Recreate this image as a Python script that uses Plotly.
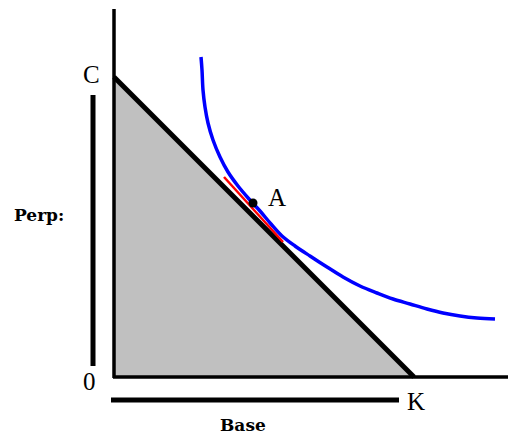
import plotly.graph_objects as go

# Data space: origin O at the corner of the axes, C on the vertical axis, K on the horizontal axis
triangle_x = [0, 0, 300]          # O, C, K
triangle_y = [0, 300, 0]
hyp_x = [0, 300]                  # C -> K
hyp_y = [300, 0]

curve_x = [87, 88, 89, 91, 94, 99, 106, 114, 124, 135, 146, 157, 168, 181, 196, 213,
           229, 246, 263, 279, 296, 313, 329, 346, 363, 381]
curve_y = [320, 307, 287, 270, 254, 237, 220, 205, 191, 178, 166, 153, 141, 131, 121, 110,
           100, 91, 84, 78, 73, 68, 64, 61, 59, 58]

tangent_x = [110, 169]
tangent_y = [200, 135]

point_a_x = [139]
point_a_y = [174]

vaxis_x = [0, 0]
vaxis_y = [-1, 368]
haxis_x = [-1, 394]
haxis_y = [0, 0]

perp_x = [-21, -21]
perp_y = [11, 282]
base_x = [-3, 285]
base_y = [-23, -23]

fig = go.Figure()

fig.add_trace(go.Scatter(x=triangle_x, y=triangle_y, fill="toself", fillcolor="#c0c0c0",
                         mode="lines", line=dict(width=0, color="#c0c0c0"), hoverinfo="skip"))
fig.add_trace(go.Scatter(x=vaxis_x, y=vaxis_y, mode="lines", line=dict(color="black", width=3.5)))
fig.add_trace(go.Scatter(x=haxis_x, y=haxis_y, mode="lines", line=dict(color="black", width=3.5)))
fig.add_trace(go.Scatter(x=hyp_x, y=hyp_y, mode="lines", line=dict(color="black", width=5)))
fig.add_trace(go.Scatter(x=curve_x, y=curve_y, mode="lines",
                         line=dict(color="#0000ff", width=3.5, shape="spline", smoothing=1)))
fig.add_trace(go.Scatter(x=tangent_x, y=tangent_y, mode="lines", line=dict(color="#ff0000", width=2.5)))
fig.add_trace(go.Scatter(x=point_a_x, y=point_a_y, mode="markers", marker=dict(color="black", size=9)))
fig.add_trace(go.Scatter(x=perp_x, y=perp_y, mode="lines", line=dict(color="black", width=5)))
fig.add_trace(go.Scatter(x=base_x, y=base_y, mode="lines", line=dict(color="black", width=5)))

serif = "Liberation Serif, Times New Roman, serif"
bold = "DejaVu Serif, serif"
labels = [
    ("C", -23, 303, serif, 25),
    ("0", -25, -4, serif, 25),
    ("K", 302, -24, serif, 25),
    ("A", 163, 180, serif, 25),
]
for t, x, y, f, s in labels:
    fig.add_annotation(x=x, y=y, text=t, showarrow=False, xanchor="center", yanchor="middle",
                       font=dict(family=f, size=s, color="black"))
fig.add_annotation(x=-75, y=162, text="<b>Perp:</b>", showarrow=False, xanchor="center", yanchor="middle",
                   font=dict(family=bold, size=17, color="black"))
fig.add_annotation(x=129, y=-48, text="<b>Base</b>", showarrow=False, xanchor="center", yanchor="middle",
                   font=dict(family=bold, size=17, color="black"))

fig.update_layout(width=508, height=436, margin=dict(l=0, r=0, t=0, b=0),
                  paper_bgcolor="white", plot_bgcolor="white", showlegend=False,
                  xaxis=dict(range=[-114, 394], visible=False, fixedrange=True),
                  yaxis=dict(range=[-59, 377], visible=False, fixedrange=True))

fig.write_html("out.html", config={"displayModeBar": False},
               post_script="document.body.style.margin='0';document.body.style.overflow='hidden';")
